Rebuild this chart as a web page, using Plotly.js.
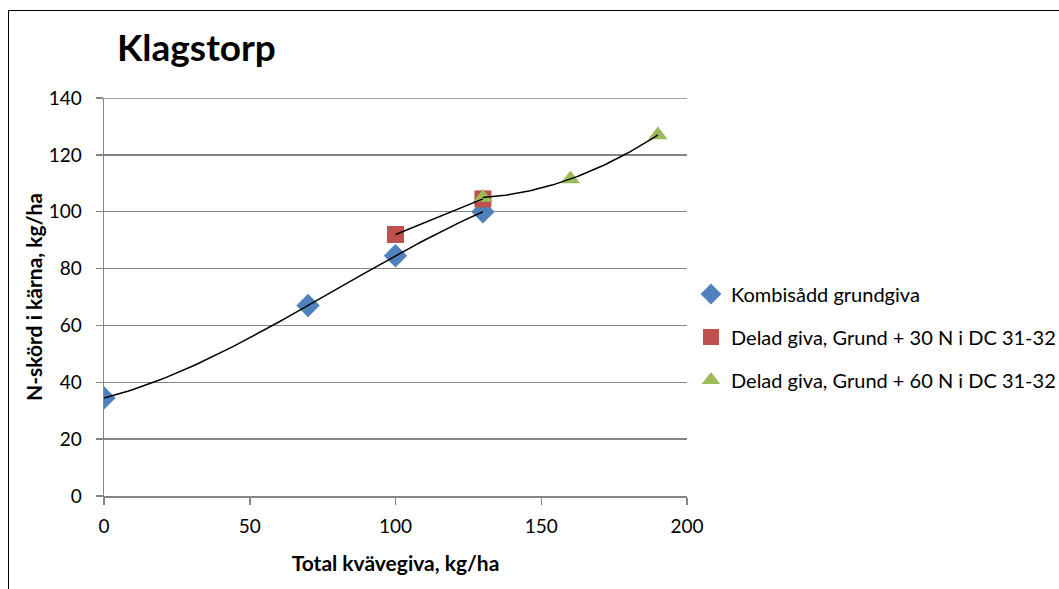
<!DOCTYPE html>
<html>
<head>
<meta charset="utf-8">
<script src="https://cdn.plot.ly/plotly-3.0.1.min.js"></script>
<style>
  html, body { margin: 0; padding: 0; background: #fff; }
  #wrap { position: relative; width: 1059px; height: 589px; overflow: hidden; }
  #chart { width: 1059px; height: 589px; }
  #frame { position: absolute; left: 8px; top: 10px; width: 1100px; height: 650px;
           border-top: 1.5px solid #000; border-left: 1.5px solid #000; pointer-events: none; }
</style>
</head>
<body>
<div id="wrap">
  <div id="chart"></div>
  <div id="frame"></div>
</div>
<script>
// ---- data ----
const kombiX = [0, 70, 100, 130];
const kombiY = [34.5, 67, 84.5, 100];
const delad30X = [100, 130];
const delad30Y = [92, 104.5];
const delad60X = [130, 160, 190];
const delad60Y = [105, 111.5, 127];

const seriesNames = [
  "Kombisådd grundgiva",
  "Delad giva, Grund + 30 N i DC 31-32",
  "Delad giva, Grund + 60 N i DC 31-32"
];
const xTicks = [0, 50, 100, 150, 200];
const yTicks = [0, 20, 40, 60, 80, 100, 120, 140];

// ---- polynomial least-squares trendline (like Excel) ----
function polyfit(xs, ys, order) {
  const s = 100; // scale x for conditioning
  const n = order + 1;
  const A = [], b = [];
  for (let i = 0; i < n; i++) {
    A.push(new Array(n).fill(0));
    b.push(0);
  }
  xs.forEach((x0, k) => {
    const x = x0 / s;
    for (let i = 0; i < n; i++) {
      for (let j = 0; j < n; j++) A[i][j] += Math.pow(x, i + j);
      b[i] += ys[k] * Math.pow(x, i);
    }
  });
  for (let c = 0; c < n; c++) {
    let p = c;
    for (let r = c + 1; r < n; r++) if (Math.abs(A[r][c]) > Math.abs(A[p][c])) p = r;
    [A[c], A[p]] = [A[p], A[c]];
    [b[c], b[p]] = [b[p], b[c]];
    for (let r = c + 1; r < n; r++) {
      const f = A[r][c] / A[c][c];
      for (let j = c; j < n; j++) A[r][j] -= f * A[c][j];
      b[r] -= f * b[c];
    }
  }
  const coef = new Array(n).fill(0);
  for (let i = n - 1; i >= 0; i--) {
    let sum = b[i];
    for (let j = i + 1; j < n; j++) sum -= A[i][j] * coef[j];
    coef[i] = sum / A[i][i];
  }
  return x0 => coef.reduce((acc, c, i) => acc + c * Math.pow(x0 / s, i), 0);
}
function trend(xs, ys, order) {
  const f = polyfit(xs, ys, order);
  const lo = Math.min(...xs), hi = Math.max(...xs);
  const tx = [], ty = [];
  const steps = 80;
  for (let i = 0; i <= steps; i++) {
    const x = lo + (hi - lo) * i / steps;
    tx.push(x); ty.push(f(x));
  }
  return { x: tx, y: ty };
}

const t1 = trend(kombiX, kombiY, 3);
const t2 = trend(delad30X, delad30Y, 1);
const t3 = trend(delad60X, delad60Y, 2);

const lineStyle = { color: '#000', width: 1.5 };
const font = "Lato, 'Open Sans', sans-serif";
const gridColor = '#868686';

const traces = [
  { x: kombiX, y: kombiY, mode: 'markers', type: 'scatter', name: seriesNames[0],
    legendgroup: 'a',
    marker: { symbol: 'diamond', size: 18, color: '#4F81BD' } },
  { x: delad30X, y: delad30Y, mode: 'markers', type: 'scatter', name: seriesNames[1],
    legendgroup: 'b',
    marker: { symbol: 'square', size: 17, color: '#C0504D' } },
  { x: delad60X, y: delad60Y, mode: 'markers', type: 'scatter', name: seriesNames[2],
    legendgroup: 'c',
    marker: { symbol: 'triangle-up', size: 17, color: '#9BBB59' } },
  { x: t1.x, y: t1.y, mode: 'lines', type: 'scatter', line: lineStyle, showlegend: false, hoverinfo: 'skip' },
  { x: t2.x, y: t2.y, mode: 'lines', type: 'scatter', line: lineStyle, showlegend: false, hoverinfo: 'skip' },
  { x: t3.x, y: t3.y, mode: 'lines', type: 'scatter', line: lineStyle, showlegend: false, hoverinfo: 'skip' }
];

const yMax = yTicks[yTicks.length - 1];

const layout = {
  width: 1059, height: 589,
  margin: { l: 104, r: 372, t: 98, b: 93 },
  paper_bgcolor: '#fff', plot_bgcolor: '#fff',
  font: { family: font, size: 19, color: '#000' },
  showlegend: true,
  title: {
    text: '<b>Klagstorp</b>',
    font: { family: font, size: 37, color: '#000' },
    x: (117 - 104) / 583, xanchor: 'left', xref: 'paper',
    y: 1 - 48 / 589, yanchor: 'middle', yref: 'container'
  },
  xaxis: {
    range: [0, 200], tickvals: xTicks, ticktext: xTicks.map(String),
    showgrid: false, zeroline: false,
    showline: true, linecolor: gridColor, linewidth: 1.5,
    ticks: 'outside', ticklen: 7, tickcolor: gridColor, tickwidth: 1.5,
    tickfont: { family: font, size: 19 },
    ticklabelstandoff: 6,
    title: { text: '<b>Total kvävegiva, kg/ha</b>', font: { family: font, size: 21 }, standoff: 20 },
    fixedrange: true
  },
  yaxis: {
    range: [0, yMax], tickvals: yTicks, ticktext: yTicks.map(String),
    showgrid: true, gridcolor: gridColor, gridwidth: 1.5,
    zeroline: false,
    showline: true, linecolor: gridColor, linewidth: 1.5,
    ticks: 'outside', ticklen: 7, tickcolor: gridColor, tickwidth: 1.5,
    tickfont: { family: font, size: 19 },
    ticklabelstandoff: 10,
    title: { text: '<b>N-skörd i kärna, kg/ha</b>', font: { family: font, size: 21 }, standoff: 0 },
    fixedrange: true
  },
  shapes: [
    { type: 'line', xref: 'paper', yref: 'y', x0: 0, x1: 1, y0: yMax, y1: yMax,
      line: { color: gridColor, width: 1.5 }, layer: 'below' }
  ],
  legend: {
    xref: 'container', yref: 'container',
    x: 691 / 1059, xanchor: 'left', y: 1 - 337 / 589, yanchor: 'middle',
    font: { family: font, size: 20 },
    traceorder: 'grouped', tracegroupgap: 14,
    itemwidth: 30, bgcolor: 'rgba(0,0,0,0)'
  }
};

Plotly.newPlot('chart', traces, layout, { staticPlot: true, displayModeBar: false });
</script>
</body>
</html>
